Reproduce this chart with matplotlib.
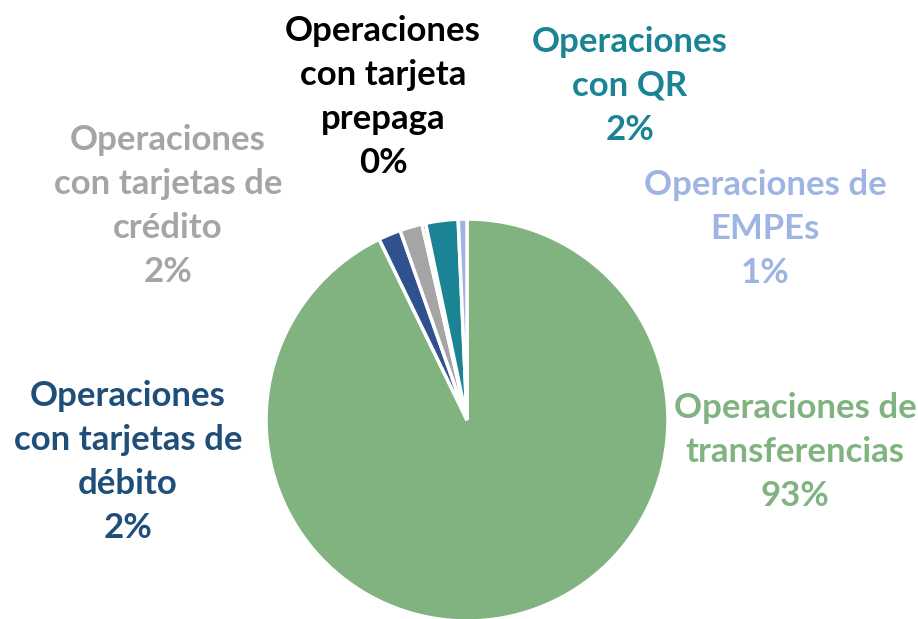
import matplotlib.pyplot as plt

categorias = ['Operaciones de\ntransferencias', 'Operaciones\ncon tarjetas de\ndébito',
              'Operaciones\ncon tarjetas de\ncrédito', 'Operaciones\ncon tarjeta\nprepaga',
              'Operaciones\ncon QR', 'Operaciones de\nEMPEs']
valores = [92.8, 1.8, 1.8, 0.3, 2.6, 0.7]
porcentajes = ['93%', '2%', '2%', '0%', '2%', '1%']
colores = ['#80B380', '#2F528F', '#A5A5A5', '#1B1B1B', '#1A8494', '#9EB5E3']
colores_texto = ['#80B380', '#1F4E79', '#A5A5A5', '#000000', '#1A8494', '#9EB5E3']
# centro de cada etiqueta en pixeles (x, y desde arriba)
pos_etiquetas = [(795, 452), (128, 462), (168, 206), (383, 97), (630, 86), (765, 229)]

W, H = 918, 619
fig = plt.figure(figsize=(W / 100, H / 100), dpi=100)
ax = fig.add_axes([0, 0, 1, 1])
cx, cy, r = 467, 420, 201

ax.pie(valores, colors=colores, startangle=90, counterclock=False, radius=1,
       wedgeprops=dict(edgecolor='white', linewidth=2.5))
ax.set_xlim(-cx / r, (W - cx) / r)
ax.set_ylim(-(H - cy) / r, cy / r)
ax.set_aspect('equal')
ax.axis('off')

for cat, pct, col, (px, py) in zip(categorias, porcentajes, colores_texto, pos_etiquetas):
    fig.text(px / W, 1 - py / H, cat + '\n' + pct, ha='center', va='center',
             color=col, fontsize=25, fontweight='bold', family='Lato', linespacing=1.45)

fig.savefig('out.png', dpi=100)
